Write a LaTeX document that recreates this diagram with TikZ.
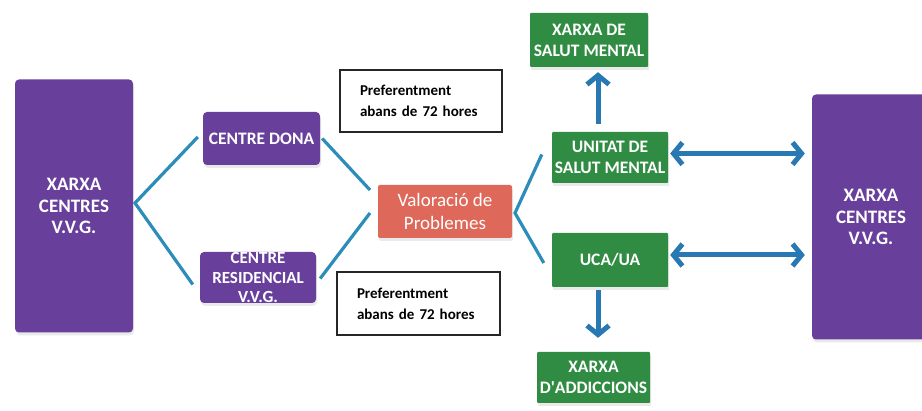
\documentclass[tikz,border=0pt]{standalone}
\usepackage{fontspec}
\setmainfont{Carlito}
\usetikzlibrary{arrows.meta,shadows,calc}
\definecolor{vpurple}{RGB}{104,64,156}
\definecolor{vgreen}{RGB}{48,140,66}
\definecolor{vred}{RGB}{222,104,90}
\definecolor{vline}{RGB}{44,140,186}
\definecolor{varrow}{RGB}{40,120,180}
\tikzset{
  base/.style={rectangle, text=white, font=\bfseries\fontsize{17.5}{21}\selectfont, align=center, inner sep=0pt,
    drop shadow={shadow xshift=1pt, shadow yshift=-3pt, fill=black!10, opacity=0.8}},
  pbox/.style={base, fill=vpurple, rounded corners=4pt},
  bigbox/.style={pbox, font=\bfseries\fontsize{19}{21.5}\selectfont},
  gbox/.style={base, fill=vgreen, rounded corners=1pt},
  rbox/.style={base, fill=vred, rounded corners=2pt},
  tbox/.style={rectangle, draw=black!85, line width=1.2pt, fill=white, text=black, align=left,
    font=\bfseries\fontsize{15}{21}\selectfont, inner sep=0pt},
  conn/.style={draw=vline, line width=3.2pt},
  barrow/.style={draw=varrow, line width=5pt, -{Straight Barb[length=9pt,width=22pt]}},
  darrow/.style={draw=varrow, line width=5pt, {Straight Barb[length=9pt,width=22pt]}-{Straight Barb[length=9pt,width=22pt]}}
}
\begin{document}
\begin{tikzpicture}[x=1pt,y=-1pt]
\useasboundingbox[fill=white] (0,0) rectangle (922,411);
% nodes
\node[bigbox, minimum width=118pt, minimum height=253pt] (L) at (74,206) {XARXA\\CENTRES\\V.V.G.};
\node[bigbox, minimum width=118pt, minimum height=245pt] (R) at (871,217) {XARXA\\CENTRES\\V.V.G.};
\node[pbox, minimum width=117pt, minimum height=53pt] (CD) at (261.5,138.5) {CENTRE DONA};
\node[pbox, minimum width=116pt, minimum height=51pt, font=\bfseries\fontsize{17}{19.5}\selectfont] (CR) at (258,277.5) {CENTRE\\RESIDENCIAL\\V.V.G.};
\node[tbox, minimum width=162pt, minimum height=62pt, text width=122pt] (T1) at (421,101) {Preferentment\\abans de 72 hores};
\node[tbox, minimum width=163pt, minimum height=63pt, text width=123pt] (T2) at (418.5,303.5) {Preferentment\\abans de 72 hores};
\node[rbox, minimum width=134pt, minimum height=53pt, font=\fontsize{19}{23}\selectfont] (V) at (445,211.5) {Valoració de\\Problemes};
\node[gbox, minimum width=118pt, minimum height=54pt] (XS) at (589,40) {XARXA DE\\SALUT MENTAL};
\node[gbox, minimum width=116pt, minimum height=51pt] (US) at (610,157.5) {UNITAT DE\\SALUT MENTAL};
\node[gbox, minimum width=116pt, minimum height=54pt] (UC) at (610,260) {UCA/UA};
\node[gbox, minimum width=113pt, minimum height=51pt] (XA) at (593.5,377.5) {XARXA\\D\textquotesingle ADDICCIONS};
% connectors
\coordinate (a1) at (135,203);
\coordinate (a2) at (370,190);
\coordinate (a3) at (370,213);
\coordinate (a4) at (515,213);
\draw[conn] ([xshift=-5pt,yshift=1.5pt]CD.west) -- (a1) -- ([xshift=-7pt,yshift=-7pt]CR.west);
\draw[conn] ([xshift=2pt]CD.east) -- (a2);
\draw[conn] ([xshift=4pt,yshift=-1pt]CR.east) -- (a3);
\draw[conn] ([xshift=-10pt,yshift=3pt]US.west) -- (a4) -- ([xshift=-8pt,yshift=-3pt]UC.west);
\coordinate (u1) at ($(US.north)+(-12,-8)$);
\coordinate (u2) at ($(u1 |- XS.south)+(0,5)$);
\draw[barrow] (u1) -- (u2);
\coordinate (d1) at ($(UC.south)+(-12,3)$);
\coordinate (d2) at ($(d1 |- XA.north)+(0,-14)$);
\draw[barrow] (d1) -- (d2);
\coordinate (h1) at ($(US.east)+(2,-4)$);
\coordinate (h2) at ($(R.west |- h1)+(-7,0)$);
\draw[darrow] (h1) -- (h2);
\coordinate (k1) at ($(UC.east)+(2,-5)$);
\coordinate (k2) at ($(R.west |- k1)+(-7,0)$);
\draw[darrow] (k1) -- (k2);
\end{tikzpicture}
\end{document}
